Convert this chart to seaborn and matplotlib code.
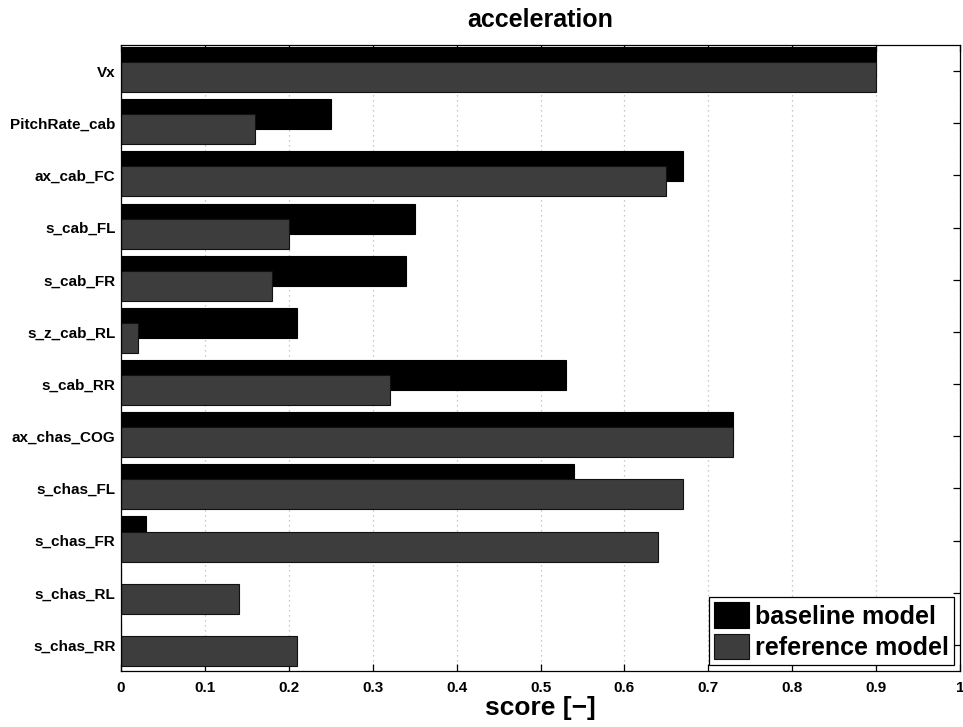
import matplotlib
matplotlib.use("Agg")
import matplotlib.pyplot as plt
import seaborn as sns
import pandas as pd

# Signals scored for the acceleration manoeuvre
signals = ["Vx", "PitchRate_cab", "ax_cab_FC", "s_cab_FL", "s_cab_FR", "s_z_cab_RL",
           "s_cab_RR", "ax_chas_COG", "s_chas_FL", "s_chas_FR", "s_chas_RL", "s_chas_RR"]
baseline = [0.90, 0.25, 0.67, 0.35, 0.34, 0.21, 0.53, 0.73, 0.54, 0.03, 0.00, 0.00]
reference = [0.90, 0.16, 0.65, 0.20, 0.18, 0.02, 0.32, 0.73, 0.67, 0.64, 0.14, 0.21]
series_names = ["baseline model", "reference model"]
xticks = [0, 0.1, 0.2, 0.3, 0.4, 0.5, 0.6, 0.7, 0.8, 0.9, 1]
xtick_labels = ["0", "0.1", "0.2", "0.3", "0.4", "0.5", "0.6", "0.7", "0.8", "0.9", "1"]

sns.set_theme(style="white")
plt.rcParams["font.family"] = ["Liberation Sans", "DejaVu Sans"]
plt.rcParams["font.weight"] = "bold"
plt.rcParams["text.color"] = "black"
plt.rcParams["axes.labelcolor"] = "black"
plt.rcParams["xtick.color"] = "black"
plt.rcParams["ytick.color"] = "black"

df_base = pd.DataFrame({"signal": signals, "score": baseline})
df_ref = pd.DataFrame({"signal": signals, "score": reference})

fig = plt.figure(figsize=(9.63, 7.27), dpi=100)
ax = fig.add_axes([0.1257, 0.077, 0.8712, 0.861])

colors = ["#000000", "#3d3d3d"]
bar_h = 0.575
offsets = [-0.175, 0.113]

sns.barplot(data=df_base, x="score", y="signal", orient="h", color=colors[0],
            width=bar_h, edgecolor="black", linewidth=0.8, saturation=1, ax=ax,
            label=series_names[0])
sns.barplot(data=df_ref, x="score", y="signal", orient="h", color=colors[1],
            width=bar_h, edgecolor="#111111", linewidth=0.8, saturation=1, ax=ax,
            label=series_names[1])

# overlapping bar pairs: baseline sits higher, reference drawn over it lower down
for cont, off in zip(ax.containers, offsets):
    for p in cont.patches:
        p.set_y(p.get_y() + off)

ax.set_xlim(0, 1)
ax.set_ylim(len(signals) - 0.5, -0.5)
ax.set_xticks(xticks)
ax.set_xticklabels(xtick_labels, fontsize=11, fontweight="bold", color="black")
ax.set_yticks(range(len(signals)))
ax.set_yticklabels(signals, fontsize=11, fontweight="bold", color="black")

ax.xaxis.grid(True, linestyle=(0, (1, 3)), color="#b8b8b8", linewidth=0.9)
ax.yaxis.grid(False)
ax.set_axisbelow(True)

for s in ax.spines.values():
    s.set_color("black")
    s.set_linewidth(0.9)

ax.tick_params(axis="x", direction="in", top=True, bottom=True, length=5,
               width=0.9, color="black", pad=7)
ax.tick_params(axis="y", direction="in", left=False, right=True, length=5,
               width=0.9, color="black", pad=4)

ax.set_xlabel("score [\u2212]", fontsize=19, fontweight="bold", labelpad=1,
              color="black")
ax.set_ylabel("")
ax.set_title("acceleration", fontsize=18, fontweight="bold", pad=13, color="black")

leg = ax.legend(loc="lower right", frameon=True, fancybox=False,
                edgecolor="black", framealpha=1, borderaxespad=0.25,
                handlelength=1.4, handleheight=1.2, handletextpad=0.25,
                borderpad=0.2, labelspacing=0.2,
                prop={"weight": "bold", "size": 18})
leg.get_frame().set_linewidth(0.9)
for t in leg.get_texts():
    t.set_color("black")

fig.savefig("out.png", dpi=100)
